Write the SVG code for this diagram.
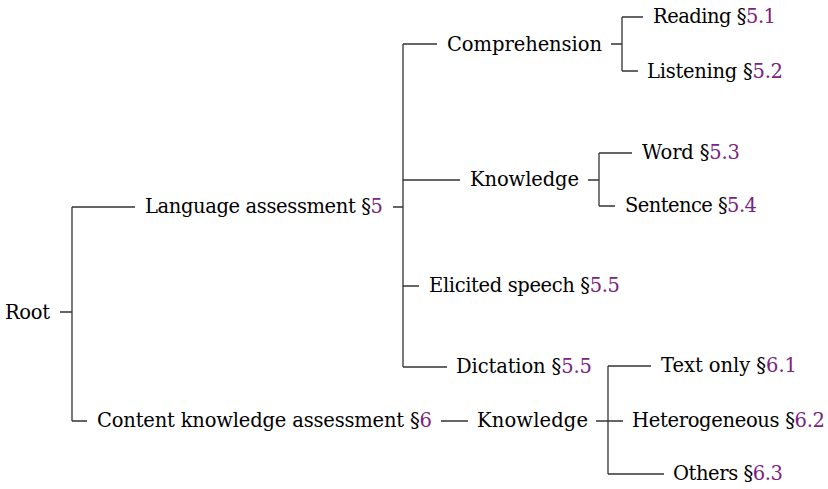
<svg xmlns="http://www.w3.org/2000/svg" width="828" height="489" viewBox="0 0 828 489">
<style>
text{font-family:"DejaVu Serif","Liberation Serif",serif;font-size:19.5px;fill:#000}
.s{fill:#7b237f}
.c{stroke:#333;stroke-width:1.3;fill:none}
</style>
<rect width="828" height="489" fill="#fff"/>
<g id="connectors">
<path class="c" d="M60 312H72M72 207V421M72 207H135M72 421H87"/>
<path class="c" d="M393 207H403M403 44V367M403 44H437M403 180H460M403 286H419M403 367H447"/>
<path class="c" d="M611 44H622M622 17V71M622 17H643M622 71H638"/>
<path class="c" d="M588 180H599M599 153V206M599 153H632M599 206H615"/>
<path class="c" d="M441 421H468M596 421H608M608 366V474M608 366H651M608 421H623M608 474H664"/>
</g>
<g id="root"><text x="5" y="319" textLength="45">Root</text></g>
<g id="lang"><text x="145" y="213" textLength="238">Language assessment §<tspan class="s">5</tspan></text></g>
<g id="comp"><text x="447" y="51" textLength="155">Comprehension</text></g>
<g id="reading"><text x="653" y="23" textLength="123">Reading §<tspan class="s">5.1</tspan></text></g>
<g id="listening"><text x="647" y="78" textLength="136">Listening §<tspan class="s">5.2</tspan></text></g>
<g id="know1"><text x="470" y="186" textLength="109">Knowledge</text></g>
<g id="word"><text x="642" y="159" textLength="98">Word §<tspan class="s">5.3</tspan></text></g>
<g id="sentence"><text x="625" y="212" textLength="132">Sentence §<tspan class="s">5.4</tspan></text></g>
<g id="elicited"><text x="429" y="292" textLength="191">Elicited speech §<tspan class="s">5.5</tspan></text></g>
<g id="dictation"><text x="456" y="373" textLength="136">Dictation §<tspan class="s">5.5</tspan></text></g>
<g id="content"><text x="97" y="427" textLength="335">Content knowledge assessment §<tspan class="s">6</tspan></text></g>
<g id="know2"><text x="477" y="427" textLength="111">Knowledge</text></g>
<g id="textonly"><text x="661" y="372" textLength="136">Text only §<tspan class="s">6.1</tspan></text></g>
<g id="hetero"><text x="632" y="427" textLength="193">Heterogeneous §<tspan class="s">6.2</tspan></text></g>
<g id="others"><text x="673" y="480" textLength="110">Others §<tspan class="s">6.3</tspan></text></g>
</svg>
